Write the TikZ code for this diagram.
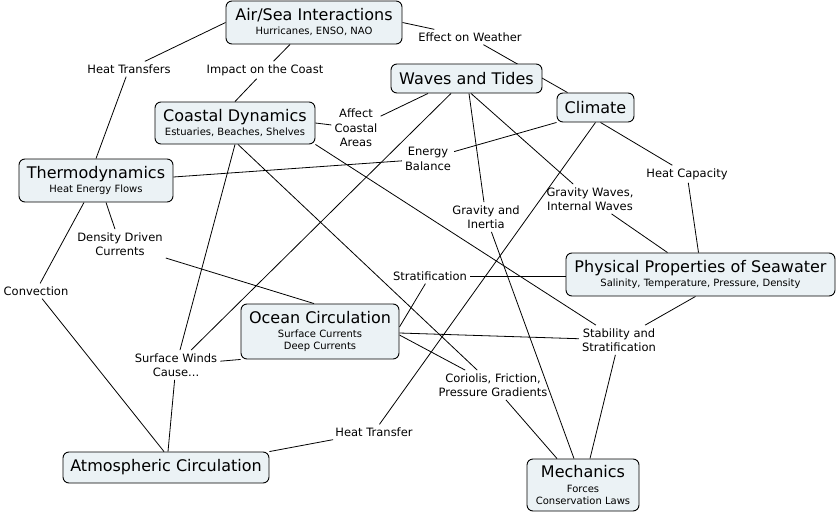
\documentclass[tikz,border=0pt]{standalone}
\usepackage{fontspec}
\setmainfont{DejaVu Sans}
\usetikzlibrary{backgrounds}
\definecolor{boxfill}{RGB}{235,242,245}
\newcommand\ctitle{\fontsize{16}{14}\selectfont}
\begin{document}
\begin{tikzpicture}[x=1pt,y=-1pt,
  concept/.style={draw=black, line width=0.9pt, fill=boxfill, rounded corners=6pt, align=center, inner sep=0pt, font=\fontsize{10}{12}\selectfont},
  linkl/.style={align=center, inner sep=3pt, font=\fontsize{11.5}{14.5}\selectfont},
  conn/.style={line width=0.8pt}]
\useasboundingbox (0,0) rectangle (838,514);
% concepts
\node[concept, minimum width=176pt, minimum height=43pt] (airsea) at (314,22.5) {{\ctitle Air/Sea Interactions}\\[2pt]Hurricanes, ENSO, NAO};
\node[concept, minimum width=151pt, minimum height=29pt] (waves) at (466.5,78.5) {{\ctitle Waves and Tides}};
\node[concept, minimum width=77pt, minimum height=29pt] (climate) at (595.5,107.5) {{\ctitle Climate}};
\node[concept, minimum width=160pt, minimum height=42pt] (coastal) at (235,123) {{\ctitle Coastal Dynamics}\\[2pt]Estuaries, Beaches, Shelves};
\node[concept, minimum width=154pt, minimum height=43pt] (thermo) at (96,180.5) {{\ctitle Thermodynamics}\\[2pt]Heat Energy Flows};
\node[concept, minimum width=269pt, minimum height=43pt] (phys) at (700.5,274.5) {{\ctitle Physical Properties of Seawater}\\[2pt]Salinity, Temperature, Pressure, Density};
\node[concept, minimum width=158pt, minimum height=55pt] (ocean) at (320,331.5) {{\ctitle Ocean Circulation}\\[2pt]Surface Currents\\Deep Currents};
\node[concept, minimum width=206pt, minimum height=31pt] (atmos) at (166,467.5) {{\ctitle Atmospheric Circulation}};
\node[concept, minimum width=112pt, minimum height=52pt] (mech) at (583,485) {{\ctitle Mechanics}\\[3pt]Forces\\Conservation Laws};
% linking phrases
\node[linkl] (eow) at (470,37) {Effect on Weather};
\node[linkl] (ht) at (129,69) {Heat Transfers};
\node[linkl] (impact) at (265,70) {Impact on the Coast};
\node[linkl] (affect) at (356,128) {Affect\\Coastal\\Areas};
\node[linkl] (eb) at (428,159) {Energy\\Balance};
\node[linkl] (hc) at (687,174) {Heat Capacity};
\node[linkl] (gw) at (590,199) {Gravity Waves,\\Internal Waves};
\node[linkl] (gi) at (486,217) {Gravity and\\Inertia};
\node[linkl] (ddc) at (120,244) {Density Driven\\Currents};
\node[linkl] (strat) at (430,276) {Stratification};
\node[linkl] (conv) at (36,291) {Convection};
\node[linkl] (swc) at (176,365) {Surface Winds\\Cause...};
\node[linkl] (stab) at (619,340) {Stability and\\Stratification};
\node[linkl] (cor) at (493,385) {Coriolis, Friction,\\Pressure Gradients};
\node[linkl] (htr) at (374,432) {Heat Transfer};
% connectors
\begin{scope}[on background layer]
\draw[conn] (airsea.west) -- (ht);
\draw[conn] (ht) -- (thermo.north);
\draw[conn] ([xshift=-24pt]airsea.south) -- (impact);
\draw[conn] (impact) -- (coastal.north);
\draw[conn] (airsea.east) -- (eow);
\draw[conn] (eow) -- ([xshift=-28pt]climate.north);
\draw[conn] ([xshift=-38.5pt]waves.south) -- (affect);
\draw[conn] (affect) -- (coastal.east);
\draw[conn] ([xshift=-15.5pt]waves.south) -- (swc);
\draw[conn] (coastal.south) -- (swc);
\draw[conn] ([xshift=2pt]atmos.north) -- (swc);
\draw[conn] (swc) -- (ocean.south west);
\draw[conn] ([xshift=2.5pt]waves.south) -- (gi);
\draw[conn] (gi) -- ([xshift=-9pt]mech.north);
\draw[conn] ([xshift=4.5pt]waves.south) -- (gw);
\draw[conn] (gw) -- ([xshift=-33pt]phys.north);
\draw[conn] (climate.south west) -- (eb);
\draw[conn] (eb) -- ([yshift=3.5pt]thermo.east);
\draw[conn] ([xshift=5pt]climate.south) -- (hc);
\draw[conn] (hc) -- ([xshift=-2pt]phys.north);
\draw[conn] (climate.south) -- (htr);
\draw[conn] (atmos.north east) -- (htr);
\draw[conn] ([xshift=3pt]coastal.south) -- (cor);
\draw[conn] (coastal.south east) -- (stab);
\draw[conn] ([xshift=-12pt]thermo.south) -- (conv);
\draw[conn] (conv) -- ([xshift=-2pt]atmos.north);
\draw[conn] ([xshift=10pt]thermo.south) -- (ddc);
\draw[conn] (ddc) -- ([xshift=-6pt]ocean.north);
\draw[conn] ([yshift=4.5pt]ocean.east) -- (strat);
\draw[conn] (strat) -- ([yshift=-1.5pt]phys.west);
\draw[conn] ([yshift=-1.5pt]ocean.east) -- (stab);
\draw[conn] (stab) -- ([xshift=-5pt]phys.south);
\draw[conn] (stab) -- ([xshift=7pt]mech.north);
\draw[conn] ([yshift=-3.5pt]ocean.east) -- (cor);
\draw[conn] (cor) -- ([xshift=-26pt]mech.north);
\end{scope}
\end{tikzpicture}
\end{document}
